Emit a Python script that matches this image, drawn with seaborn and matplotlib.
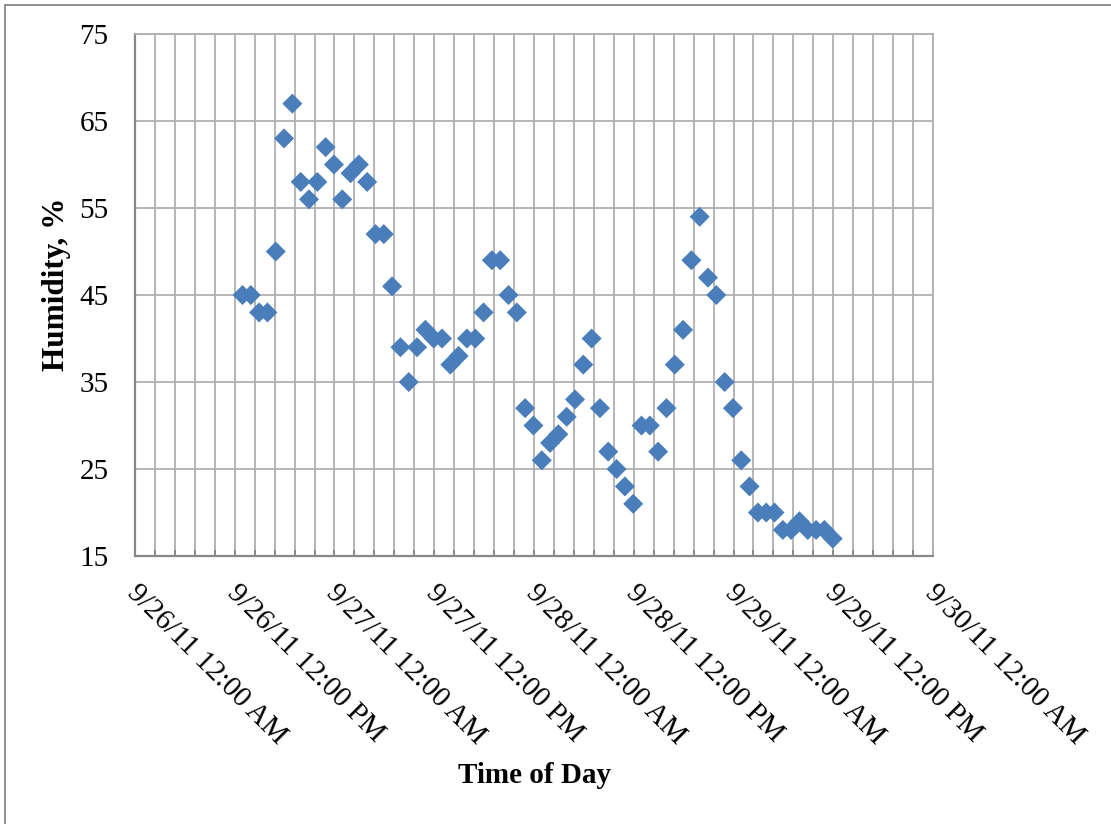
import numpy as np
import pandas as pd
import matplotlib
matplotlib.use("Agg")
import matplotlib.pyplot as plt
import matplotlib.ticker as mticker
import matplotlib.transforms as mtransforms
from matplotlib.lines import Line2D
import seaborn as sns

# ---- data ----
start_time = "2011-09-26 12:56"   # first reading, logged hourly
humidity = [45, 45, 43, 43, 50, 63, 67, 58, 56, 58, 62, 60, 56, 59, 60, 58,
            52, 52, 46, 39, 35, 39, 41, 40, 40, 37, 38, 40, 40, 43, 49, 49,
            45, 43, 32, 30, 26, 28, 29, 31, 33, 37, 40, 32, 27, 25, 23, 21,
            30, 30, 27, 32, 37, 41, 49, 54, 47, 45, 35, 32, 26, 23, 20, 20,
            20, 18, 18, 19, 18, 18, 18, 17]
x_tick_labels = ["9/26/11 12:00 AM", "9/26/11 12:00 PM", "9/27/11 12:00 AM",
                 "9/27/11 12:00 PM", "9/28/11 12:00 AM", "9/28/11 12:00 PM",
                 "9/29/11 12:00 AM", "9/29/11 12:00 PM", "9/30/11 12:00 AM"]
y_ticks = [15, 25, 35, 45, 55, 65, 75]
x_label = "Time of Day"
y_label = "Humidity, %"

times = pd.date_range(start=start_time, periods=len(humidity), freq="h")
df = pd.DataFrame({"time": times, "humidity": humidity})
tick_pos = pd.to_datetime(x_tick_labels, format="%m/%d/%y %I:%M %p")

# ---- style ----
sns.set_theme(style="white")
plt.rcParams["font.family"] = ["Liberation Serif", "DejaVu Serif"]

fig = plt.figure(figsize=(11.11, 8.24), dpi=100)
ax = fig.add_axes([0.1215, 0.3252, 0.7183, 0.6335])

sns.scatterplot(data=df, x="time", y="humidity", ax=ax, marker="D",
                s=104, color="#4A7EBB", edgecolor="none", linewidth=0, zorder=3)

ax.set_xlim(tick_pos[0], tick_pos[-1])
ax.set_ylim(y_ticks[0], y_ticks[-1])
ax.set_yticks(y_ticks)
ax.set_xticks(tick_pos)
ax.set_xticklabels(x_tick_labels, rotation=-45, ha="left", va="top",
                   rotation_mode="anchor")
ax.xaxis.set_minor_locator(mticker.MultipleLocator(0.1))

grid_c = "#B0B0B0"
ax.grid(True, which="both", axis="x", color=grid_c, lw=1.3, zorder=0)
ax.grid(True, which="major", axis="y", color=grid_c, lw=1.3, zorder=0)
ax.set_axisbelow(True)

for side in ["left", "bottom"]:
    ax.spines[side].set_color("#878787")
    ax.spines[side].set_linewidth(1.6)
for side in ["top", "right"]:
    ax.spines[side].set_color(grid_c)
    ax.spines[side].set_linewidth(1.3)

ax.tick_params(axis="x", which="both", direction="in", length=4, width=1.3,
               color="#878787", bottom=True)
ax.tick_params(axis="x", which="major", labelsize=21, pad=17, labelcolor="black")
ax.tick_params(axis="y", which="major", labelsize=21, pad=19, length=0,
               labelcolor="black")

offset = mtransforms.ScaledTranslation(5 / 100, 0, fig.dpi_scale_trans)
for lbl in ax.get_xticklabels():
    lbl.set_transform(lbl.get_transform() + offset)

ax.set_xlabel(x_label, fontsize=21, fontweight="bold", color="black")
ax.set_ylabel(y_label, fontsize=22.5, fontweight="bold", color="black")
ax.xaxis.set_label_coords(0.5, -0.395)
ax.yaxis.set_label_coords(-0.08, 0.52)

# outer chart-area border (top and left visible in reference)
fig.add_artist(Line2D([5 / 1111, 1.0], [1 - 5 / 824, 1 - 5 / 824],
                      transform=fig.transFigure, color="#878787", lw=1.3))
fig.add_artist(Line2D([5 / 1111, 5 / 1111], [0, 1 - 5 / 824],
                      transform=fig.transFigure, color="#878787", lw=1.3))

fig.savefig("out.png", dpi=100)
